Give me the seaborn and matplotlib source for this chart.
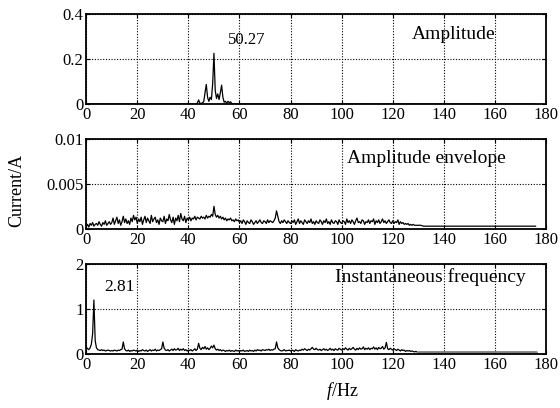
import numpy as np
import matplotlib
matplotlib.use("Agg")
import matplotlib.pyplot as plt
import seaborn as sns

# ----------------------------------
# Data
# ----------------------------------
# Panel 1: amplitude spectrum (A)
amp_freq = [0, 43, 43.5, 44, 44.5, 45, 46, 46.5, 47, 47.5, 48, 48.5, 49, 49.5,
            50, 50.5, 51, 51.5, 52, 52.5, 53, 53.5, 54, 54.5, 55, 55.5, 56,
            56.5, 57, 58, 176]
amp_vals = [0, 0, 0.005, 0.018, 0.004, 0.002, 0.01, 0.05, 0.087, 0.03, 0.012,
            0.03, 0.02, 0.09, 0.225, 0.06, 0.025, 0.045, 0.02, 0.05, 0.084,
            0.03, 0.008, 0.012, 0.004, 0.012, 0.006, 0.01, 0.002, 0, 0]

# Panel 2: amplitude envelope spectrum, 0.5 Hz steps 0..129.5 Hz (units 1e-4 A)
env_e4 = [
    3, 5, 2, 6, 4, 7, 3, 5, 6, 4, 8, 5, 3, 7, 5, 9, 4, 6, 8, 5,
    7, 12, 5, 9, 13, 6, 10, 4, 8, 14, 7, 11, 6, 9, 5, 12, 8, 15, 10, 13,
    6, 11, 8, 13, 5, 10, 14, 7, 12, 9, 6, 15, 8, 11, 13, 7, 10, 5, 12, 9,
    8, 14, 6, 11, 9, 16, 10, 7, 13, 5, 12, 9, 15, 8, 17, 11, 9, 14, 7, 12,
    10, 13, 9, 12, 11, 14, 10, 13, 12, 11, 14, 12, 13, 11, 15, 12, 14, 13, 16, 14,
    25, 16, 13, 15, 12, 14, 11, 13, 10, 12, 9, 11, 10, 12, 9, 10, 8, 11, 9, 10,
    7, 9, 6, 10, 8, 5, 9, 7, 6, 10, 8, 5, 7, 9, 6, 8, 10, 7, 6, 9,
    8, 6, 10, 7, 9, 8, 7, 9, 12, 20, 14, 8, 6, 9, 7, 10, 8, 6, 9, 7,
    6, 9, 7, 10, 5, 8, 11, 6, 9, 7, 5, 10, 8, 6, 9, 7, 11, 6, 8, 5,
    9, 7, 6, 10, 8, 5, 9, 7, 11, 6, 8, 5, 10, 7, 6, 9, 8, 5, 10, 7,
    6, 9, 8, 5, 11, 7, 9, 6, 10, 8, 5, 9, 12, 7, 8, 6, 10, 9, 5, 8,
    7, 10, 6, 9, 8, 11, 5, 9, 7, 10, 6, 8, 11, 7, 9, 6, 8, 10, 7, 6,
    9, 6, 8, 7, 10, 5, 8, 6, 7, 5, 6, 5, 6, 4, 5, 4, 5, 4, 4, 4,
]
env_tail_freq = [130, 131, 132, 133, 134, 135, 176]
env_tail_e4 = [4, 4, 3, 3, 3, 3, 3]

# Panel 3: instantaneous frequency spectrum, 0.5 Hz steps 0..129.5 Hz (units 0.01)
inst_e2 = [
    16, 12, 10, 14, 22, 45, 120, 30, 14, 10, 9, 8, 10, 8, 9, 7, 8, 9, 8, 7,
    8, 7, 9, 8, 7, 9, 8, 10, 11, 27, 12, 8, 7, 9, 6, 8, 7, 9, 8, 7,
    9, 6, 8, 7, 10, 8, 7, 9, 6, 8, 10, 7, 9, 8, 11, 7, 9, 8, 10, 12,
    27, 13, 9, 8, 10, 7, 9, 11, 8, 12, 9, 10, 13, 8, 11, 9, 12, 8, 10, 7,
    9, 8, 10, 7, 9, 12, 8, 11, 24, 13, 10, 15, 12, 17, 11, 14, 10, 13, 18, 14,
    20, 12, 9, 11, 8, 10, 7, 9, 8, 6, 8, 7, 9, 6, 8, 7, 6, 9, 7, 8,
    6, 8, 7, 9, 6, 7, 8, 6, 9, 7, 8, 6, 9, 7, 10, 8, 9, 7, 10, 9,
    8, 10, 9, 11, 8, 10, 9, 11, 12, 27, 14, 10, 8, 7, 8, 10, 7, 8, 8, 9,
    7, 9, 8, 6, 10, 8, 7, 9, 8, 11, 9, 12, 10, 8, 11, 9, 12, 15, 11, 10,
    13, 10, 9, 11, 8, 10, 12, 9, 11, 8, 10, 13, 9, 11, 8, 12, 10, 9, 13, 11,
    9, 12, 10, 14, 11, 9, 13, 10, 12, 15, 11, 9, 13, 10, 14, 11, 12, 16, 10, 13,
    11, 14, 10, 13, 12, 16, 11, 14, 10, 15, 12, 13, 17, 11, 14, 26, 12, 10, 13, 11,
    9, 12, 10, 8, 11, 9, 7, 10, 8, 9, 6, 8, 7, 8, 6, 7, 6, 5, 6, 5,
]
inst_tail_freq = [130, 176]
inst_tail_e2 = [5, 5]

grid_freq = np.arange(len(env_e4)) * 0.5
env_freq = np.concatenate([grid_freq, env_tail_freq])
env_vals = np.concatenate([env_e4, env_tail_e4]) * 1e-4
inst_vals = np.array(inst_e2) * 1e-2
inst_tail = np.array(inst_tail_e2) * 1e-2

# ----------------------------------
# Style
# ----------------------------------
sns.set_style("ticks")
plt.rcParams["font.family"] = ["Liberation Serif", "DejaVu Serif"]
plt.rcParams["text.color"] = "k"
plt.rcParams["mathtext.fontset"] = "custom"
plt.rcParams["mathtext.it"] = "Liberation Serif:italic"
plt.rcParams["mathtext.rm"] = "Liberation Serif"

fig = plt.figure(figsize=(5.6, 4.08), dpi=100)
left, width, height = 0.154, 0.821, 0.221
bottoms = [0.745, 0.439, 0.132]
axes = [fig.add_axes([left, b, width, height]) for b in bottoms]


def style_axis(ax, yticks, ylabels):
    ax.set_xlim(0, 180)
    ax.set_ylim(yticks[0], yticks[-1])
    ax.set_xticks(range(0, 181, 20))
    ax.set_yticks(yticks)
    ax.set_yticklabels(ylabels)
    ax.grid(True, linestyle=(0, (1, 1.5)), color="k", linewidth=0.8)
    ax.tick_params(direction="in", length=3, width=0.8, labelsize=12,
                   top=True, right=True, pad=2, colors="k")
    for s in ax.spines.values():
        s.set_linewidth(1.3)
        s.set_color("k")
    ax.set_xlabel("")
    ax.set_ylabel("")


# Amplitude
ax = axes[0]
sns.lineplot(x=amp_freq, y=amp_vals, ax=ax, color="k", linewidth=0.9,
             estimator=None, sort=False)
style_axis(ax, [0, 0.2, 0.4], ["0", "0.2", "0.4"])
ax.text(55.6, 0.284, "50.27", fontsize=12, va="center")
ax.text(127.5, 0.307, "Amplitude", fontsize=14, va="center")

# Amplitude envelope
ax = axes[1]
sns.lineplot(x=env_freq, y=env_vals, ax=ax, color="k", linewidth=0.9,
             estimator=None, sort=False)
style_axis(ax, [0, 0.005, 0.01], ["0", "0.005", "0.01"])
ax.text(102, 0.0078, "Amplitude envelope", fontsize=14, va="center")

# Instantaneous frequency
ax = axes[2]
sns.lineplot(x=grid_freq, y=inst_vals, ax=ax, color="k", linewidth=0.9,
             estimator=None, sort=False)
sns.lineplot(x=inst_tail_freq, y=inst_tail, ax=ax, color="#808080",
             linewidth=2, estimator=None, sort=False)
style_axis(ax, [0, 1, 2], ["0", "1", "2"])
ax.text(7.0, 1.49, "2.81", fontsize=12.5, va="center")
ax.text(97.4, 1.71, "Instantaneous frequency", fontsize=14, va="center")

fig.text(17 / 560, 1 - 190 / 408, "Current/A", rotation=90, fontsize=13,
         ha="center", va="center")
fig.text(342 / 560, 1 - 391 / 408, "$f$/Hz", fontsize=13,
         ha="center", va="center")

fig.savefig("out.png", dpi=100)
